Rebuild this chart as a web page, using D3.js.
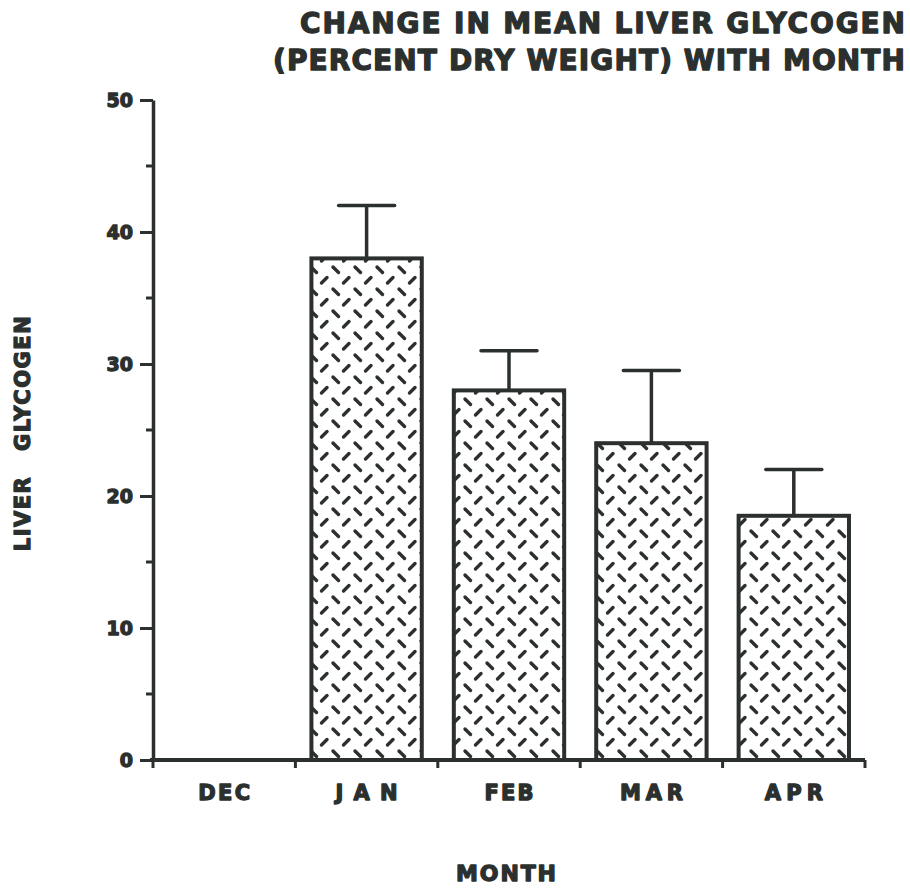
<!DOCTYPE html>
<html><head><meta charset="utf-8">
<script src="https://cdn.jsdelivr.net/npm/d3@7"></script>
<style>
body{margin:0;background:#fff;}
text{font-family:"DejaVu Sans","Liberation Sans",Arial,sans-serif;font-weight:bold;fill:#2b302e;stroke:#2b302e;stroke-width:1.3px;stroke-linejoin:round;}
</style></head>
<body><svg id="c" width="910" height="888"></svg>
<script>
const months = ["DEC","JAN","FEB","MAR","APR"];
const means = [null, 38, 28, 24, 18.5];
const upperErr = [null, 42, 31, 29.5, 22];
const yTicks = [0,10,20,30,40,50];
const yMinorTicks = [5,15,25,35,45];
const titleLines = ["CHANGE IN MEAN LIVER GLYCOGEN","(PERCENT DRY WEIGHT) WITH MONTH"];
const xLabel = "MONTH";
const yLabel = "LIVER GLYCOGEN";

const ink = "#2b302e";
const svg = d3.select("#c");
const x = d3.scaleBand().domain(months).range([153,865]).padding(0);
const y = d3.scaleLinear().domain([0,50]).range([760,100]);

// pattern
const defs = svg.append("defs");
const T = 22;
const pat = defs.append("pattern").attr("id","dp").attr("patternUnits","userSpaceOnUse")
  .attr("width",T).attr("height",T);
pat.append("rect").attr("width",T).attr("height",T).attr("fill","#fff");
pat.append("line").attr("x1",3).attr("y1",3).attr("x2",8.5).attr("y2",8.5)
  .attr("stroke",ink).attr("stroke-width",3.4).attr("stroke-linecap","round");
pat.append("line").attr("x1",13.5).attr("y1",19).attr("x2",19).attr("y2",13.5)
  .attr("stroke",ink).attr("stroke-width",3.4).attr("stroke-linecap","round");

const data = months.map((m,i)=>({m, v:means[i], e:upperErr[i]})).filter(d=>d.v!=null);
const bw = x.bandwidth()*0.775;
const off = (x.bandwidth()-bw)/2;

// error bars
const eg = svg.append("g").attr("stroke",ink).attr("stroke-width",3.5);
eg.selectAll("line.v").data(data).join("line").attr("class","v")
  .attr("x1",d=>x(d.m)+x.bandwidth()/2).attr("x2",d=>x(d.m)+x.bandwidth()/2)
  .attr("y1",d=>y(d.v)).attr("y2",d=>y(d.e));
eg.selectAll("line.c").data(data).join("line").attr("class","c")
  .attr("x1",d=>x(d.m)+x.bandwidth()/2-28).attr("x2",d=>x(d.m)+x.bandwidth()/2+28)
  .attr("y1",d=>y(d.e)).attr("y2",d=>y(d.e)).attr("stroke-linecap","round");

// bars
svg.append("g").selectAll("rect").data(data).join("rect")
  .attr("x",d=>x(d.m)+off).attr("width",bw)
  .attr("y",d=>y(d.v)).attr("height",d=>y(0)-y(d.v))
  .attr("fill","url(#dp)").attr("stroke",ink).attr("stroke-width",4);

// y axis
const ya = svg.append("g").attr("transform","translate(153,0)")
  .call(d3.axisLeft(y).tickValues(yTicks).tickSize(13).tickSizeOuter(0).tickPadding(7).tickFormat(d3.format("d")));
ya.select(".domain").attr("stroke",ink).attr("stroke-width",3.5);
ya.selectAll(".tick line").attr("stroke",ink).attr("stroke-width",3);
ya.selectAll(".tick text").style("font-size","19px").attr("dy","0.36em");
svg.append("g").selectAll("line").data(yMinorTicks).join("line")
  .attr("x1",146).attr("x2",153).attr("y1",d=>y(d)).attr("y2",d=>y(d))
  .attr("stroke",ink).attr("stroke-width",3);

// x axis line and boundary ticks
const xb = months.map(m=>x(m)).concat([x.range()[1]]);
svg.append("line").attr("x1",150).attr("x2",x.range()[1]).attr("y1",y(0)).attr("y2",y(0))
  .attr("stroke",ink).attr("stroke-width",4);
svg.append("g").selectAll("line").data(xb).join("line")
  .attr("x1",d=>d).attr("x2",d=>d).attr("y1",y(0)).attr("y2",y(0)+8)
  .attr("stroke",ink).attr("stroke-width",3);

// x labels
const labelWidth = {DEC:52, JAN:62, FEB:49, MAR:63, APR:58};
const xa = svg.append("g").attr("transform",`translate(0,${y(0)})`)
  .call(d3.axisBottom(x).tickSize(0).tickPadding(25));
xa.select(".domain").remove();
xa.selectAll(".tick text").style("font-size","21px")
  .attr("textLength",d=>labelWidth[d]).attr("lengthAdjust","spacing");

// axis titles
svg.append("text").attr("x",506).attr("y",881).attr("text-anchor","middle")
  .style("font-size","22px").attr("textLength",100).attr("lengthAdjust","spacing").text(xLabel);
svg.append("text").attr("transform","translate(30,433) rotate(-90)").attr("text-anchor","middle")
  .style("font-size","21px").attr("letter-spacing","1.5px").attr("word-spacing","16px").text(yLabel);

// title
const titleWidths = [605, 632];
svg.append("g").selectAll("text").data(titleLines).join("text")
  .attr("x",905).attr("y",(d,i)=>33+i*37).attr("text-anchor","end")
  .style("font-size","28px").attr("textLength",(d,i)=>titleWidths[i]).attr("lengthAdjust","spacing").text(d=>d);
</script></body></html>
